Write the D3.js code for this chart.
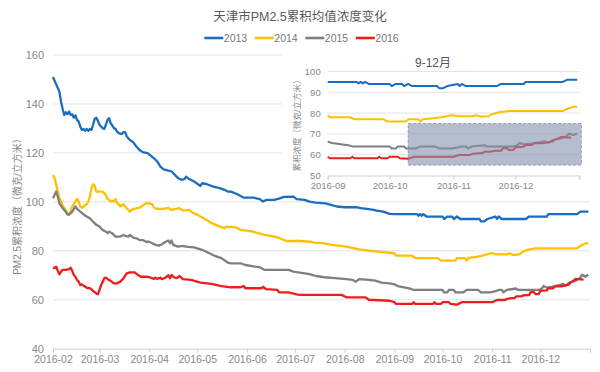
<!DOCTYPE html>
<html><head><meta charset="utf-8">
<script src="https://cdn.jsdelivr.net/npm/d3@7"></script>
<style>
body{margin:0;background:#fff;}
svg{font-family:"Liberation Sans","Noto Sans CJK SC",sans-serif;}
</style></head><body>
<svg id="chart" width="600" height="372"></svg>
<script>
const title = "天津市PM2.5累积均值浓度变化";
const insetTitle = "9-12月";
const yTitle = "PM2.5累积浓度（微克/立方米）";
const insetYTitle = "累积浓度（微克/立方米）";
const seriesNames = ["2013", "2014", "2015", "2016"];
const seriesColors = ["#1a6ebf", "#ffc000", "#7f7f7f", "#ee1c1c"];
const yTicks = [40, 60, 80, 100, 120, 140, 160];
const insetYTicks = [50, 60, 70, 80, 90, 100];
const xTickLabels = ["2016-02","2016-03","2016-04","2016-05","2016-06","2016-07","2016-08","2016-09","2016-10","2016-11","2016-12"];
const insetXTickLabels = ["2016-09","2016-10","2016-11","2016-12"];
const highlightRange = ["2016-10-10", "2017-01-02"];
const highlightValues = [55, 75];

const s2013 = [["02-01",151],["02-03",148],["02-05",145],["02-06",141],["02-07",138],["02-08",135.5],["02-09",136.6],["02-10",135.8],["02-11",136.9],["02-12",135.5],["02-13",135.8],["02-14",134.4],["02-15",135.3],["02-16",133.5],["02-17",132.8],["02-18",130.8],["02-19",129.4],["02-20",129.8],["02-21",129],["02-22",129.8],["02-23",129],["02-24",129.8],["02-25",129.4],["02-26",131.5],["02-27",133.9],["02-28",134.4],["02-29",133.1],["03-01",131.5],["03-02",130.8],["03-03",130.1],["03-04",129.8],["03-05",131.5],["03-06",133.5],["03-07",134.2],["03-08",132.1],["03-09",131.2],["03-10",130.1],["03-11",129.8],["03-12",128.7],["03-13",128.1],["03-15",127.7],["03-16",128.5],["03-17",128.5],["03-18",126.7],["03-20",125.3],["03-22",124.4],["03-24",122.6],["03-26",121.2],["03-28",120.3],["03-31",119.9],["04-02",118.9],["04-04",117.8],["04-06",116.5],["04-08",114.4],["04-10",113.3],["04-13",112.8],["04-15",112.4],["04-19",109.7],["04-21",109],["04-23",109.3],["04-24",110.3],["04-26",109.3],["04-29",108.3],["05-03",106.5],["05-04",107.6],["05-07",107.2],["05-11",106.2],["05-15",105.6],["05-18",104.9],["05-20",104.2],["05-22",104.2],["05-26",103.1],["05-30",101.7],["06-05",101.7],["06-09",101.1],["06-11",100.1],["06-13",100.8],["06-18",100.8],["06-21",101.3],["06-24",102],["06-30",102.1],["07-02",101.1],["07-07",100.8],["07-10",100.1],["07-14",99.7],["07-20",99.4],["07-24",98.7],["07-27",98.1],["08-01",97.8],["08-08",97.8],["08-11",97.4],["08-16",97],["08-19",96.7],["08-21",96.4],["08-25",96],["08-29",95.1],["09-01",95],["09-15",95],["09-16",94.3],["09-17",95],["09-18",94.3],["09-19",95],["09-21",94],["10-01",94],["10-02",93],["10-04",94],["10-07",94],["10-08",93],["10-10",94],["10-12",93],["10-24",93],["10-25",92],["10-27",92],["10-29",93],["11-03",94],["11-04",93],["11-05",94],["11-07",93],["11-22",93],["11-24",94],["12-05",94],["12-06",95],["12-24",95],["12-26",96],["12-31",96]];

const s2014 = [["02-01",111],["02-02",109.7],["02-03",106.9],["02-04",104.2],["02-05",101.5],["02-07",98.7],["02-08",97.4],["02-10",95.4],["02-11",94.9],["02-12",96],["02-13",98.1],["02-15",100.1],["02-16",101.2],["02-17",100.1],["02-18",98.1],["02-19",97.6],["02-20",98.1],["02-22",99],["02-23",100.1],["02-24",102.1],["02-25",105.6],["02-26",107.2],["02-27",106.6],["02-28",104.2],["03-03",104.2],["03-04",103.5],["03-05",102.8],["03-06",101.2],["03-07",100.8],["03-08",100.1],["03-09",100.4],["03-10",100.1],["03-11",101.2],["03-12",99.4],["03-13",99],["03-14",98.1],["03-15",98.7],["03-16",99],["03-17",98.1],["03-19",96.7],["03-20",96],["03-21",96.7],["03-24",97.4],["03-26",97.6],["03-28",98.5],["03-30",99.4],["04-01",99.4],["04-03",99],["04-04",97.6],["04-06",97.1],["04-10",97.1],["04-13",97.5],["04-15",96.7],["04-20",97.4],["04-22",96.4],["04-26",96.7],["04-28",95.6],["05-01",94.7],["05-05",93.3],["05-10",91.3],["05-14",90.2],["05-18",89.2],["05-19",89.9],["05-25",89.6],["05-28",88.5],["06-01",88.2],["06-05",87.8],["06-08",87.2],["06-12",86.5],["06-16",86.1],["06-20",85.5],["06-23",84.7],["06-26",84],["07-04",84],["07-11",83.7],["07-13",83.3],["07-18",83.1],["07-24",82.4],["08-02",81.7],["08-10",80.6],["08-16",80.1],["08-22",79.7],["08-29",79.2],["09-01",79],["09-02",78],["09-12",78],["09-14",77],["09-28",77],["09-30",76],["10-09",76],["10-10",77],["10-15",77],["10-16",76],["10-17",77],["10-22",77.5],["10-26",78],["10-31",79],["11-01",79],["11-03",78.5],["11-10",78.5],["11-12",79],["11-14",78.3],["11-18",78.5],["11-20",79.6],["11-23",80.4],["11-28",81],["12-24",81],["12-26",82],["12-29",83],["12-31",83]];

const s2015 = [["02-01",101.5],["02-02",102.8],["02-03",104.2],["02-04",102.1],["02-05",99.4],["02-07",97.4],["02-09",96],["02-10",94.9],["02-11",94.7],["02-12",95.4],["02-13",96],["02-14",97.1],["02-15",98.1],["02-16",97.1],["02-18",96],["02-20",94.9],["02-22",94],["02-24",93.3],["02-26",91.9],["02-28",90.6],["03-01",89.9],["03-03",88.5],["03-05",87.8],["03-06",87.2],["03-07",87.8],["03-09",87.2],["03-11",85.8],["03-14",85.8],["03-16",86.5],["03-17",86.1],["03-19",85.8],["03-20",86.5],["03-22",85.4],["03-24",85.1],["03-26",84.4],["03-28",84.4],["03-30",83.7],["04-01",83.7],["04-03",83.1],["04-05",82.4],["04-07",82.1],["04-09",82.7],["04-11",83.6],["04-13",84.2],["04-14",83.1],["04-15",84.2],["04-16",82.4],["04-19",81.7],["04-22",82],["04-24",81.7],["04-29",81.4],["05-01",81],["05-04",80.4],["05-08",79.2],["05-12",77.9],["05-16",77],["05-20",75.2],["05-22",74.9],["05-28",74.9],["05-31",74.2],["06-06",73.5],["06-09",73.3],["06-12",72.2],["06-27",72.2],["06-30",71.5],["07-04",71.1],["07-10",70.5],["07-14",69.7],["07-19",69.2],["07-26",68.8],["08-02",68.4],["08-06",68.1],["08-08",67.4],["08-10",68.4],["08-16",68.1],["08-20",67.8],["08-24",67],["08-29",66.7],["09-01",66.3],["09-03",65.6],["09-11",64.5],["09-13",64],["10-01",64],["10-02",63],["10-04",63],["10-05",64],["10-08",64],["10-09",63],["10-14",63],["10-16",64],["10-23",64],["10-25",63],["10-31",63],["11-03",63.5],["11-05",64],["11-07",64],["11-08",63],["11-10",64],["11-16",64.6],["11-17",64],["11-30",64],["12-02",64.6],["12-03",65.6],["12-05",65],["12-09",65.4],["12-14",66.2],["12-15",66.5],["12-17",65.7],["12-19",67],["12-23",67.8],["12-26",69],["12-27",70.2],["12-29",69.4],["12-31",70.2]];

const s2016 = [["02-01",73.1],["02-02",72.9],["02-03",73.5],["02-04",71.8],["02-05",70.4],["02-06",71.5],["02-07",72.2],["02-09",72.2],["02-11",72.5],["02-12",73.1],["02-13",71.8],["02-14",70.1],["02-15",69.4],["02-16",68.1],["02-17",67.4],["02-18",66],["02-19",66.3],["02-20",65.8],["02-22",64.9],["02-24",64.7],["02-25",64.3],["02-26",63.6],["02-27",63.1],["02-28",62.6],["02-29",62.2],["03-01",64],["03-02",66],["03-03",67.4],["03-04",68.8],["03-05",69],["03-06",68.5],["03-08",67.7],["03-10",66.7],["03-12",66.7],["03-14",67.4],["03-16",68.8],["03-18",70.8],["03-20",71.2],["03-23",71.2],["03-25",70.1],["03-27",69.4],["03-31",69.4],["04-02",69],["04-04",68.5],["04-05",69],["04-06",68.5],["04-08",69],["04-09",68.4],["04-11",69],["04-13",70],["04-14",68.8],["04-15",70.1],["04-16",69.4],["04-18",68.8],["04-20",69.7],["04-22",68.4],["04-27",68.1],["05-03",67],["05-10",66.5],["05-16",65.6],["05-22",65.1],["05-28",65.1],["05-30",65.6],["05-31",64.7],["06-10",64.7],["06-11",65.3],["06-13",64.3],["06-20",64],["06-21",63],["06-27",63],["07-02",62.2],["07-04",62],["07-30",62],["08-02",61],["08-14",61],["08-16",60],["08-29",59.6],["09-01",59],["09-02",58.3],["09-12",58.3],["09-13",59],["09-14",58.3],["09-25",58.3],["09-26",59],["09-27",58.3],["09-30",58.3],["10-01",59],["10-05",59],["10-06",58.3],["10-10",58],["10-13",59],["11-01",59],["11-04",59.9],["11-09",59.9],["11-10",60.3],["11-13",60.7],["11-15",60.7],["11-16",61.4],["11-19",61.4],["11-21",61.9],["11-24",61.9],["11-25",63.1],["11-27",63.1],["11-28",62.3],["11-30",62.3],["12-01",63.6],["12-05",63.8],["12-06",64.7],["12-09",64.7],["12-10",65.5],["12-14",65.5],["12-16",65.8],["12-19",66.3],["12-20",67.1],["12-22",67.9],["12-23",68.5],["12-28",68.2]];

const allSeries = [s2013, s2014, s2015, s2016];

const parse = d3.timeParse("%Y-%m-%d");
const data = allSeries.map(s => s.map(([d, v]) => ({date: parse("2016-" + d), value: v})));

const svg = d3.select("#chart");
const textColor = "#888";

// Main scales
const x = d3.scaleTime().domain([parse("2016-02-01"), parse("2017-01-01")]).range([53, 590]);
const y = d3.scaleLinear().domain([40, 160]).range([348.7, 55]);

// Title
svg.append("text").attr("x", 300).attr("y", 17).attr("text-anchor", "middle")
  .attr("dominant-baseline", "central").attr("font-size", 12.5).attr("fill", "#595959").text(title);

// Legend
const legend = svg.append("g");
seriesNames.forEach((n, i) => {
  const g = legend.append("g").attr("transform", `translate(${204.3 + 50.5 * i},38)`);
  g.append("line").attr("x1", 0).attr("x2", 19).attr("stroke", seriesColors[i]).attr("stroke-width", 2.6);
  g.append("text").attr("x", 19.5).attr("dy", "0.35em").attr("font-size", 10.5).attr("fill", "#777").text(n);
});

// Gridlines
svg.append("g").selectAll("line").data(yTicks.slice(1)).join("line")
  .attr("x1", x.range()[0]).attr("x2", x.range()[1])
  .attr("y1", d => y(d)).attr("y2", d => y(d))
  .attr("stroke", "#e4e4e4").attr("stroke-width", 1);

// Y axis labels
const yAxis = svg.append("g").attr("transform", `translate(${x.range()[0]},0)`)
  .call(d3.axisLeft(y).tickValues(yTicks).tickSize(0).tickPadding(9));
yAxis.select(".domain").remove();
yAxis.selectAll("text").attr("font-size", 11).attr("fill", textColor).attr("font-family", null);

// X axis
const monthTicks = xTickLabels.map(l => parse(l + "-01")).concat([parse("2017-01-01")]);
const xAxis = svg.append("g").attr("transform", `translate(0,${y(40)})`)
  .call(d3.axisBottom(x).tickValues(monthTicks).tickSize(4).tickPadding(3)
    .tickFormat((d, i) => xTickLabels[i] || ""));
xAxis.select(".domain").attr("stroke", "#cfcfcf");
xAxis.selectAll(".tick line").attr("stroke", "#cfcfcf");
xAxis.selectAll("text").attr("font-size", 10.5).attr("fill", textColor).attr("font-family", null);

// Y title
svg.append("text").attr("transform", "translate(17,204) rotate(-90)").attr("text-anchor", "middle")
  .attr("dominant-baseline", "central").attr("font-size", 10).attr("fill", textColor).text(yTitle);

// Lines
const line = d3.line().x(d => x(d.date)).y(d => y(d.value));
svg.append("g").selectAll("path").data(data).join("path")
  .attr("d", line).attr("fill", "none")
  .attr("stroke", (d, i) => seriesColors[i]).attr("stroke-width", 2.3)
  .attr("stroke-linejoin", "round");

// ---------- Inset ----------
const inset = svg.append("g");
inset.append("rect").attr("x", 282).attr("y", 46).attr("width", 316).attr("height", 148).attr("fill", "#fff");

const ix = d3.scaleTime().domain([parse("2016-09-01"), parse("2017-01-01")]).range([327.7, 579.3]);
const iy = d3.scaleLinear().domain([50, 100]).range([175.5, 71.5]);

inset.append("text").attr("x", 433).attr("y", 62.5).attr("text-anchor", "middle")
  .attr("dominant-baseline", "central").attr("font-size", 12).attr("fill", "#555").text(insetTitle);

inset.append("g").selectAll("line").data(insetYTicks.slice(1)).join("line")
  .attr("x1", ix.range()[0]).attr("x2", ix.range()[1])
  .attr("y1", d => iy(d)).attr("y2", d => iy(d))
  .attr("stroke", "#e4e4e4");

const iyAxis = inset.append("g").attr("transform", `translate(${ix.range()[0]},0)`)
  .call(d3.axisLeft(iy).tickValues(insetYTicks).tickSize(0).tickPadding(7));
iyAxis.select(".domain").remove();
iyAxis.selectAll("text").attr("font-size", 9.5).attr("fill", textColor).attr("font-family", null);

const insetMonths = insetXTickLabels.map(l => parse(l + "-01")).concat([parse("2017-01-01")]);
const ixAxis = inset.append("g").attr("transform", `translate(0,${iy(50)})`)
  .call(d3.axisBottom(ix).tickValues(insetMonths).tickSize(4).tickPadding(3)
    .tickFormat((d, i) => insetXTickLabels[i] || ""));
ixAxis.select(".domain").attr("stroke", "#cfcfcf");
ixAxis.selectAll(".tick line").attr("stroke", "#cfcfcf");
ixAxis.selectAll("text").attr("font-size", 9.5).attr("fill", textColor).attr("font-family", null);

inset.append("text").attr("transform", `translate(297,${(iy(50) + iy(100)) / 2}) rotate(-90)`)
  .attr("text-anchor", "middle").attr("dominant-baseline", "central")
  .attr("font-size", 8.5).attr("fill", textColor).text(insetYTitle);

const iline = d3.line().x(d => ix(d.date)).y(d => iy(d.value));
inset.append("g").selectAll("path")
  .data(data.map(s => s.filter(d => d.date >= ix.domain()[0])))
  .join("path").attr("d", iline).attr("fill", "none")
  .attr("stroke", (d, i) => seriesColors[i]).attr("stroke-width", 2)
  .attr("stroke-linejoin", "round");

// Highlight box
const hx0 = ix(parse(highlightRange[0])), hx1 = ix(parse(highlightRange[1]));
inset.append("rect").attr("x", hx0).attr("y", iy(highlightValues[1]))
  .attr("width", hx1 - hx0).attr("height", iy(highlightValues[0]) - iy(highlightValues[1]))
  .attr("fill", "#8290ad").attr("fill-opacity", 0.6)
  .attr("stroke", "#7a86a0").attr("stroke-width", 0.7).attr("stroke-dasharray", "3,2");
</script>
</body></html>
